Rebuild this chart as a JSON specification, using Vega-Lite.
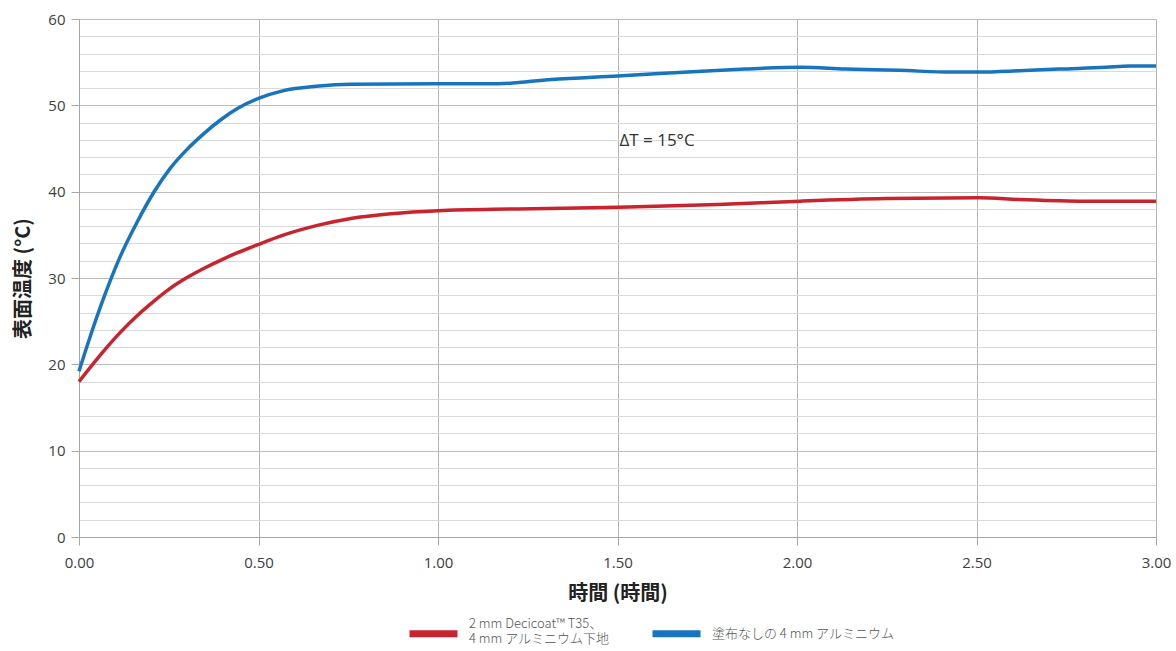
{
  "$schema": "https://vega.github.io/schema/vega-lite/v6.json",
  "width": 1077,
  "height": 518,
  "autosize": {"type": "none"},
  "padding": {"left": 79, "top": 19, "right": 20, "bottom": 114},
  "background": "white",
  "config": {
    "view": {"stroke": null},
    "font": "Noto Sans CJK JP"
  },
  "datasets": {
    "curves": [
      {"t": 0.0, "temp": 19.2, "series": "塗布なしの 4 mm アルミニウム"},
      {"t": 0.031, "temp": 23.2, "series": "塗布なしの 4 mm アルミニウム"},
      {"t": 0.068, "temp": 27.6, "series": "塗布なしの 4 mm アルミニウム"},
      {"t": 0.115, "temp": 32.5, "series": "塗布なしの 4 mm アルミニウム"},
      {"t": 0.161, "temp": 36.4, "series": "塗布なしの 4 mm アルミニウム"},
      {"t": 0.208, "temp": 39.9, "series": "塗布なしの 4 mm アルミニウム"},
      {"t": 0.254, "temp": 42.7, "series": "塗布なしの 4 mm アルミニウム"},
      {"t": 0.301, "temp": 44.9, "series": "塗布なしの 4 mm アルミニウム"},
      {"t": 0.347, "temp": 46.7, "series": "塗布なしの 4 mm アルミニウム"},
      {"t": 0.394, "temp": 48.3, "series": "塗布なしの 4 mm アルミニウム"},
      {"t": 0.44, "temp": 49.6, "series": "塗布なしの 4 mm アルミニウム"},
      {"t": 0.5, "temp": 50.8, "series": "塗布なしの 4 mm アルミニウム"},
      {"t": 0.57, "temp": 51.7, "series": "塗布なしの 4 mm アルミニウム"},
      {"t": 0.66, "temp": 52.2, "series": "塗布なしの 4 mm アルミニウム"},
      {"t": 0.757, "temp": 52.45, "series": "塗布なしの 4 mm アルミニウム"},
      {"t": 1.0, "temp": 52.5, "series": "塗布なしの 4 mm アルミニウム"},
      {"t": 1.167, "temp": 52.5, "series": "塗布なしの 4 mm アルミニウム"},
      {"t": 1.316, "temp": 53.0, "series": "塗布なしの 4 mm アルミニウム"},
      {"t": 1.5, "temp": 53.4, "series": "塗布なしの 4 mm アルミニウム"},
      {"t": 1.735, "temp": 53.95, "series": "塗布なしの 4 mm アルミニウム"},
      {"t": 1.855, "temp": 54.2, "series": "塗布なしの 4 mm アルミニウム"},
      {"t": 2.01, "temp": 54.4, "series": "塗布なしの 4 mm アルミニウム"},
      {"t": 2.134, "temp": 54.2, "series": "塗布なしの 4 mm アルミニウム"},
      {"t": 2.284, "temp": 54.05, "series": "塗布なしの 4 mm アルミニウム"},
      {"t": 2.433, "temp": 53.85, "series": "塗布なしの 4 mm アルミニウム"},
      {"t": 2.508, "temp": 53.85, "series": "塗布なしの 4 mm アルミニウム"},
      {"t": 2.619, "temp": 54.0, "series": "塗布なしの 4 mm アルミニウム"},
      {"t": 2.73, "temp": 54.2, "series": "塗布なしの 4 mm アルミニウム"},
      {"t": 2.86, "temp": 54.4, "series": "塗布なしの 4 mm アルミニウム"},
      {"t": 2.927, "temp": 54.55, "series": "塗布なしの 4 mm アルミニウム"},
      {"t": 3.0, "temp": 54.55, "series": "塗布なしの 4 mm アルミニウム"},
      {"t": 0.0, "temp": 18.0, "series": "2 mm Decicoat™ T35、|4 mm アルミニウム下地"},
      {"t": 0.068, "temp": 21.5, "series": "2 mm Decicoat™ T35、|4 mm アルミニウム下地"},
      {"t": 0.115, "temp": 23.7, "series": "2 mm Decicoat™ T35、|4 mm アルミニウム下地"},
      {"t": 0.161, "temp": 25.6, "series": "2 mm Decicoat™ T35、|4 mm アルミニウム下地"},
      {"t": 0.208, "temp": 27.3, "series": "2 mm Decicoat™ T35、|4 mm アルミニウム下地"},
      {"t": 0.254, "temp": 28.8, "series": "2 mm Decicoat™ T35、|4 mm アルミニウム下地"},
      {"t": 0.301, "temp": 30.05, "series": "2 mm Decicoat™ T35、|4 mm アルミニウム下地"},
      {"t": 0.347, "temp": 31.1, "series": "2 mm Decicoat™ T35、|4 mm アルミニウム下地"},
      {"t": 0.394, "temp": 32.05, "series": "2 mm Decicoat™ T35、|4 mm アルミニウム下地"},
      {"t": 0.44, "temp": 32.9, "series": "2 mm Decicoat™ T35、|4 mm アルミニウム下地"},
      {"t": 0.5, "temp": 33.9, "series": "2 mm Decicoat™ T35、|4 mm アルミニウム下地"},
      {"t": 0.571, "temp": 35.0, "series": "2 mm Decicoat™ T35、|4 mm アルミニウム下地"},
      {"t": 0.664, "temp": 36.1, "series": "2 mm Decicoat™ T35、|4 mm アルミニウム下地"},
      {"t": 0.757, "temp": 36.9, "series": "2 mm Decicoat™ T35、|4 mm アルミニウム下地"},
      {"t": 0.869, "temp": 37.45, "series": "2 mm Decicoat™ T35、|4 mm アルミニウム下地"},
      {"t": 1.0, "temp": 37.8, "series": "2 mm Decicoat™ T35、|4 mm アルミニウム下地"},
      {"t": 1.223, "temp": 38.0, "series": "2 mm Decicoat™ T35、|4 mm アルミニウム下地"},
      {"t": 1.5, "temp": 38.2, "series": "2 mm Decicoat™ T35、|4 mm アルミニウム下地"},
      {"t": 1.78, "temp": 38.5, "series": "2 mm Decicoat™ T35、|4 mm アルミニウム下地"},
      {"t": 2.01, "temp": 38.9, "series": "2 mm Decicoat™ T35、|4 mm アルミニウム下地"},
      {"t": 2.247, "temp": 39.2, "series": "2 mm Decicoat™ T35、|4 mm アルミニウム下地"},
      {"t": 2.508, "temp": 39.3, "series": "2 mm Decicoat™ T35、|4 mm アルミニウム下地"},
      {"t": 2.619, "temp": 39.1, "series": "2 mm Decicoat™ T35、|4 mm アルミニウム下地"},
      {"t": 2.8, "temp": 38.9, "series": "2 mm Decicoat™ T35、|4 mm アルミニウム下地"},
      {"t": 3.0, "temp": 38.9, "series": "2 mm Decicoat™ T35、|4 mm アルミニウム下地"}
    ],
    "notes": [
      {"t": 1.61, "temp": 45.9, "label": "ΔT = 15°C"}
    ]
  },
  "layer": [
    {
      "data": {"name": "curves"},
      "mark": {"type": "line", "strokeWidth": 3.5, "interpolate": "monotone"},
      "encoding": {
        "x": {
          "field": "t", "type": "quantitative",
          "scale": {"domain": [0, 3], "nice": false, "zero": false},
          "axis": {
            "values": [0, 0.5, 1, 1.5, 2, 2.5, 3],
            "tickCount": 20,
            "format": ".2f",
            "title": "時間 (時間)",
            "titleFont": "Noto Sans CJK JP",
            "titleFontWeight": "bold",
            "titleFontSize": 20,
            "titleColor": "#222222",
            "titlePadding": 13,
            "labelFont": "Open Sans",
            "labelFontSize": 15,
            "labelColor": "#404040",
            "labelPadding": 10,
            "labelFlush": false,
            "labelOverlap": false,
            "tickSize": 8,
            "tickColor": "#a6a6a6",
            "domainColor": "#a6a6a6",
            "grid": true,
            "gridColor": "#b5b5b5",
            "gridWidth": 1
          }
        },
        "y": {
          "field": "temp", "type": "quantitative",
          "scale": {"domain": [0, 60], "nice": false},
          "axis": {
            "values": [0, 2, 4, 6, 8, 10, 12, 14, 16, 18, 20, 22, 24, 26, 28, 30, 32, 34, 36, 38, 40, 42, 44, 46, 48, 50, 52, 54, 56, 58, 60],
            "tickCount": 40,
            "labelExpr": "datum.value % 10 === 0 ? datum.label : ''",
            "labelOverlap": false,
            "title": "表面温度 (°C)",
            "titleFont": "Noto Sans CJK JP",
            "titleFontWeight": "bold",
            "titleFontSize": 20,
            "titleColor": "#222222",
            "titlePadding": 14,
            "labelFont": "Open Sans",
            "labelFontSize": 15,
            "labelColor": "#404040",
            "labelPadding": 6,
            "tickSize": 8,
            "tickColor": "#a6a6a6",
            "tickOpacity": {"condition": {"test": "datum.value % 10 === 0", "value": 1}, "value": 0},
            "domainColor": "#a6a6a6",
            "grid": true,
            "gridColor": {"condition": {"test": "datum.value % 10 === 0", "value": "#bdbdbd"}, "value": "#dadada"},
            "gridWidth": 1
          }
        },
        "color": {
          "field": "series", "type": "nominal",
          "scale": {
            "domain": ["2 mm Decicoat™ T35、|4 mm アルミニウム下地", "塗布なしの 4 mm アルミニウム"],
            "range": ["#c8242f", "#1874bd"]
          },
          "legend": {
            "title": null,
            "orient": "none",
            "direction": "horizontal",
            "legendX": 327,
            "legendY": 587,
            "symbolType": "M-1,0H1",
            "symbolSize": 2304,
            "symbolStrokeWidth": 7,
            "symbolOpacity": 1,
            "labelFont": "Noto Sans CJK JP",
            "labelFontSize": 13,
            "labelFontWeight": 300,
            "labelColor": "#555555",
            "labelLimit": 400,
            "labelOffset": 8,
            "labelLineHeight": 20,
            "labelExpr": "split(datum.label, '|')",
            "columnPadding": 28,
            "encode": {
              "labels": {
                "update": {
                  "dy": {"signal": "indexof(datum.value, '|') >= 0 ? -10 : 0"}
                }
              }
            }
          }
        }
      }
    },
    {
      "data": {"name": "notes"},
      "mark": {"type": "text", "font": "Open Sans", "fontSize": 17, "color": "#333333"},
      "encoding": {
        "x": {"field": "t", "type": "quantitative"},
        "y": {"field": "temp", "type": "quantitative"},
        "text": {"field": "label"}
      }
    }
  ]
}
